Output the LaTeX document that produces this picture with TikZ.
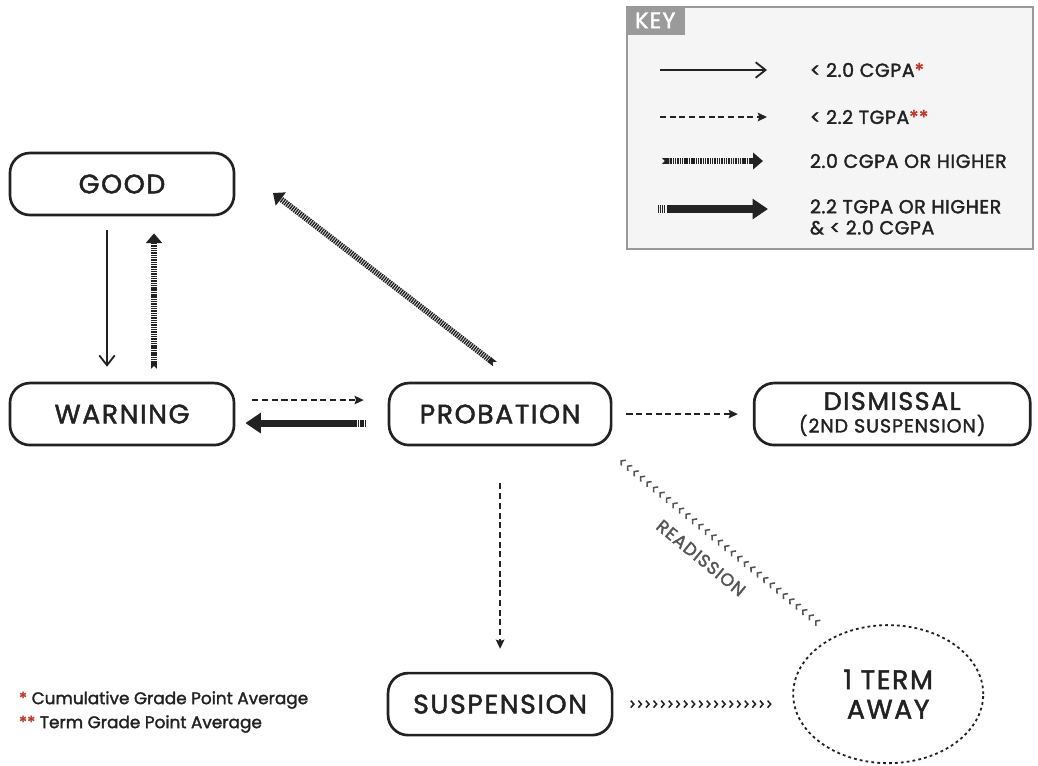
\documentclass[tikz,border=0pt]{standalone}
\usepackage{fontspec}
\setmainfont{Poppins}[UprightFeatures={FakeBold=1.8}]
\usepackage{xcolor}
\usetikzlibrary{arrows.meta}
\usetikzlibrary{positioning}
\usetikzlibrary{shapes.geometric}
\usetikzlibrary{decorations.markings}

\definecolor{ink}{HTML}{222222}
\definecolor{keygray}{HTML}{9A9A9A}
\definecolor{keyfill}{HTML}{F5F5F5}
\definecolor{starred}{HTML}{C0392B}
\definecolor{lblgray}{HTML}{555555}

\newcommand{\statefont}{\fontsize{19}{21}\selectfont\addfontfeatures{LetterSpace=6}}
\newcommand{\keyfont}{\fontsize{13.5}{15}\selectfont\addfontfeatures{LetterSpace=3}}

\tikzset{
  state/.style={draw=ink,line width=1.9pt,rounded corners=0.5cm,minimum width=5.6cm,
    minimum height=1.55cm,text=ink,font=\statefont},
  lowarr/.style={draw=ink,line width=1.3pt,-{Straight Barb[length=7pt,width=11pt]}},
  termarr/.style={draw=ink,line width=1.2pt,dash pattern=on 4.3pt off 2.6pt,
    -{Stealth[length=6.5pt,width=6pt,inset=1pt]}},
  passarr/.style={draw=ink,line width=4.2pt,dash pattern=on 1pt off 0.65pt,
    {Triangle Cap[reversed]}-{Triangle[length=7pt,width=11.5pt]}},
  highrarr/.style={draw=ink,line width=5pt,
    dash pattern=on 0.8pt off 0.7pt on 0.8pt off 0.7pt on 0.8pt off 0.7pt on 0.8pt off 1.2pt on 800pt off 1pt,
    -{Triangle[length=11pt,width=14pt]}},
  chevr/.style={postaction={decorate},decoration={markings,
    mark=between positions 0.01 and 1 step 0.19cm with {\arrow[ink]{Straight Barb[length=2.2pt,width=5pt,line width=1.1pt]}}}},
  readchevr/.style={postaction={decorate},decoration={markings,
    mark=between positions 0.01 and 1 step 0.21cm with {\arrow[lblgray]{Straight Barb[length=2.2pt,width=5pt,line width=1.1pt]}}}},
  keytext/.style={anchor=west,text=ink,align=left,font=\keyfont}
}

\begin{document}
\begin{tikzpicture}[x=0.025cm,y=-0.025cm]
  \useasboundingbox (0,0) rectangle (1038,765);

  % states
  \node[state] at (122,184) (good) {GOOD};
  \node[state] at ([yshift=-5.75cm]good) (warning) {WARNING};
  \node[state,minimum width=5.55cm] at ([xshift=9.45cm]warning) (probation) {PROBATION};
  \node[state,minimum width=6.9cm,align=center,font=\statefont\fontsize{18}{16}\selectfont]
    at ([xshift=9.8cm]probation) (dismissal) {DISMISSAL\\{\fontsize{13.5}{13}\selectfont\addfontfeatures{LetterSpace=5}(2ND SUSPENSION)}};
  \node[state] at ([yshift=-7.25cm]probation) (suspension) {SUSPENSION};
  \node[ellipse,draw=ink,line width=1.3pt,dash pattern=on 2pt off 2.2pt,inner sep=0pt,
    minimum width=4.75cm,minimum height=3.45cm,align=center,text=ink,
    font=\fontsize{19}{21}\selectfont\addfontfeatures{LetterSpace=6}] at ([xshift=9.7cm,yshift=0.25cm]suspension) (away) {1 TERM\\AWAY};

  % good <-> warning
  \draw[lowarr,shorten <=0.35cm,shorten >=0.375cm] ([xshift=-0.375cm]good.south) -- ([xshift=-0.375cm]warning.north);
  \draw[passarr,shorten <=0.325cm,shorten >=0.425cm] ([xshift=0.8cm]warning.north) -- ([xshift=0.8cm]good.south);

  % warning <-> probation
  \draw[termarr,shorten <=0.425cm,shorten >=0.6cm] ([yshift=0.35cm]warning.east) -- ([yshift=0.35cm]probation.west);
  \draw[highrarr,shorten <=0.55cm,shorten >=0.25cm] ([yshift=-0.225cm]probation.west) -- ([yshift=-0.225cm]warning.east);

  % probation back to good
  \coordinate (diagtail) at (495,364);
  \coordinate (diaghead) at (273,193);
  \draw[passarr] (diagtail) -- (diaghead);

  \draw[termarr,shorten <=0.35cm,shorten >=0.375cm] (probation.east) -- (dismissal.west);
  \draw[termarr,shorten <=0.925cm,shorten >=0.575cm] (probation.south) -- (suspension.north);

  % one term away and back
  \path[chevr] ([xshift=0.5cm]suspension.east) -- ([xshift=-0.5cm]away.west |- suspension.east);
  \coordinate (readtail) at (817,622);
  \coordinate (readhead) at (620,460);
  \path[readchevr] (readtail) -- (readhead);
  \node[rotate=-39.4,text=lblgray,font=\fontsize{12.5}{12}\selectfont\addfontfeatures{LetterSpace=6}]
    at (701,558) (readlbl) {READISSION};

  % key
  \node[draw=keygray,fill=keyfill,line width=2pt,minimum width=10.15cm,minimum height=6.05cm] at (830,128) (keybox) {};
  \node[fill=keygray,text=white,minimum width=1.475cm,minimum height=0.725cm,inner sep=0pt,
    font=\fontsize{16}{16}\selectfont\addfontfeatures{LetterSpace=5},anchor=north west] at (keybox.north west) (keytab) {KEY};

  \coordinate (k1s) at (660,70);  \coordinate (k1e) at (767,70);
  \coordinate (k2s) at (660,117); \coordinate (k2e) at (767,117);
  \coordinate (k3s) at (662,161); \coordinate (k3e) at (763,161);
  \coordinate (k4s) at (658,209); \coordinate (k4e) at (768,209);
  \draw[lowarr] (k1s) -- (k1e);
  \draw[termarr] (k2s) -- (k2e);
  \draw[passarr] (k3s) -- (k3e);
  \draw[highrarr] (k4s) -- (k4e);
  \node[keytext] at (805,70) (keylow) {< 2.0 CGPA\textcolor{starred}{*}};
  \node[keytext] at (805,117) (keyterm) {< 2.2 TGPA\textcolor{starred}{**}};
  \node[keytext] at (805,161) (keypass) {2.0 CGPA OR HIGHER};
  \node[keytext] at (805,217) (keyhigh) {2.2 TGPA OR HIGHER\\\& < 2.0 CGPA};

  % footnotes
  \node[anchor=west,text=ink,font=\fontsize{12}{12}\selectfont] at (14,700) (cgpanote)
    {\textcolor{starred}{*} Cumulative Grade Point Average};
  \node[anchor=west,text=ink,font=\fontsize{12}{12}\selectfont] at (14,724) (tgpanote)
    {\textcolor{starred}{**} Term Grade Point Average};
\end{tikzpicture}
\end{document}
